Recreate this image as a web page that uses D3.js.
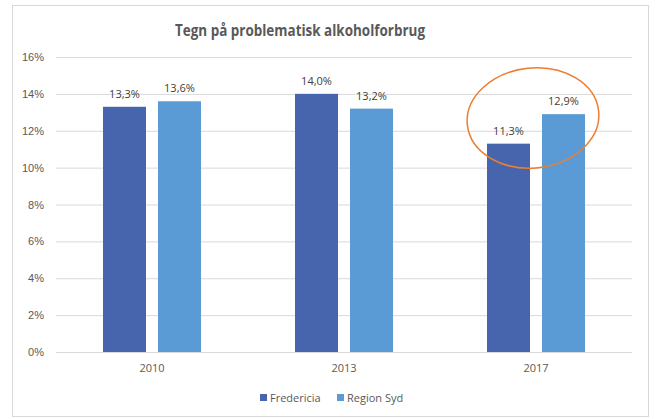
<!DOCTYPE html>
<html>
<head>
<meta charset="utf-8">
<script src="https://cdn.jsdelivr.net/npm/d3@7"></script>
<style>
  body { margin: 0; background: #fff; }
  svg { display: block; font-family: 'Open Sans', sans-serif; }
</style>
</head>
<body>
<svg></svg>
<script>
const years = ['2010', '2013', '2017'];
const seriesNames = ['Fredericia', 'Region Syd'];
const fredericia = [13.3, 14.0, 11.3];
const regionSyd = [13.6, 13.2, 12.9];
const yTicks = [0, 2, 4, 6, 8, 10, 12, 14, 16];

let width = 656;
let height = 419;
let colors = ['#4765AD', '#5B9BD5'];

let svg = d3.select('svg')
    .attr('width', width)
    .attr('height', height);

// chart frame
svg.append('rect')
    .attr('x', 12.5).attr('y', 5.5)
    .attr('width', 636).attr('height', 411)
    .attr('fill', '#fff')
    .attr('stroke', '#D9D9D9');

let xScale = d3.scaleBand()
    .domain(years)
    .range([56, 632]);

let innerScale = d3.scaleBand()
    .domain(seriesNames)
    .range([0, 98])
    .paddingInner(0.218);

let yScale = d3.scaleLinear()
    .domain([0, 16])
    .range([352, 57]);

// gridlines
let yAxis = d3.axisLeft(yScale)
    .tickValues(yTicks)
    .tickSize(-(632 - 56))
    .tickPadding(12)
    .tickFormat(d => d + '%');

let gy = svg.append('g')
    .attr('transform', 'translate(56,0)')
    .call(yAxis);
gy.select('.domain').remove();
gy.selectAll('line').attr('stroke', '#D9D9D9');
gy.selectAll('text')
    .attr('fill', '#595959')
    .style('font-size', '11px');

// bars
let rows = years.map((y, i) => ({ year: y, values: [fredericia[i], regionSyd[i]] }));

let groups = svg.selectAll('.grp')
    .data(rows)
    .enter()
    .append('g')
    .attr('class', 'grp')
    .attr('transform', d => 'translate(' + (xScale(d.year) + xScale.bandwidth() / 2 - 49) + ',0)');

groups.selectAll('rect')
    .data(d => d.values.map((v, j) => ({ name: seriesNames[j], value: v, idx: j })))
    .enter()
    .append('rect')
    .attr('x', d => innerScale(d.name))
    .attr('width', innerScale.bandwidth())
    .attr('y', d => yScale(d.value))
    .attr('height', d => yScale(0) - yScale(d.value))
    .attr('fill', d => colors[d.idx]);

groups.selectAll('.lbl')
    .data(d => d.values.map((v, j) => ({ name: seriesNames[j], value: v })))
    .enter()
    .append('text')
    .attr('class', 'lbl')
    .attr('x', d => innerScale(d.name) + innerScale.bandwidth() / 2)
    .attr('y', d => yScale(d.value) - 9)
    .attr('text-anchor', 'middle')
    .attr('fill', '#404040')
    .style('font-size', '11px')
    .text(d => d.value.toFixed(1).replace('.', ',') + '%');

// x axis line
svg.append('line')
    .attr('x1', 56).attr('x2', 632)
    .attr('y1', 352.5).attr('y2', 352.5)
    .attr('stroke', '#D9D9D9');

svg.selectAll('.xl')
    .data(years)
    .enter()
    .append('text')
    .attr('class', 'xl')
    .attr('x', d => xScale(d) + xScale.bandwidth() / 2)
    .attr('y', 372)
    .attr('text-anchor', 'middle')
    .attr('fill', '#595959')
    .style('font-size', '11px')
    .text(d => d);

// title
svg.append('text')
    .attr('x', 300)
    .attr('y', 36)
    .attr('text-anchor', 'middle')
    .attr('fill', '#595959')
    .attr('textLength', 250)
    .attr('lengthAdjust', 'spacingAndGlyphs')
    .style('font-size', '16px')
    .style('font-weight', 'bold')
    .text('Tegn på problematisk alkoholforbrug');

// legend
let legendX = [260, 337];
let lg = svg.selectAll('.leg')
    .data(seriesNames)
    .enter()
    .append('g')
    .attr('class', 'leg')
    .attr('transform', (d, i) => 'translate(' + legendX[i] + ',394)');
lg.append('rect')
    .attr('width', 7).attr('height', 7)
    .attr('fill', (d, i) => colors[i]);
lg.append('text')
    .attr('x', 10)
    .attr('y', 7.5)
    .attr('fill', '#595959')
    .style('font-size', '11px')
    .text(d => d);

// orange highlight ellipse
svg.append('ellipse')
    .attr('cx', 533).attr('cy', 118)
    .attr('rx', 66).attr('ry', 50)
    .attr('transform', 'rotate(-6,533,118)')
    .attr('fill', 'none')
    .attr('stroke', '#ED7D31')
    .attr('stroke-width', 1.5);
</script>
</body>
</html>
